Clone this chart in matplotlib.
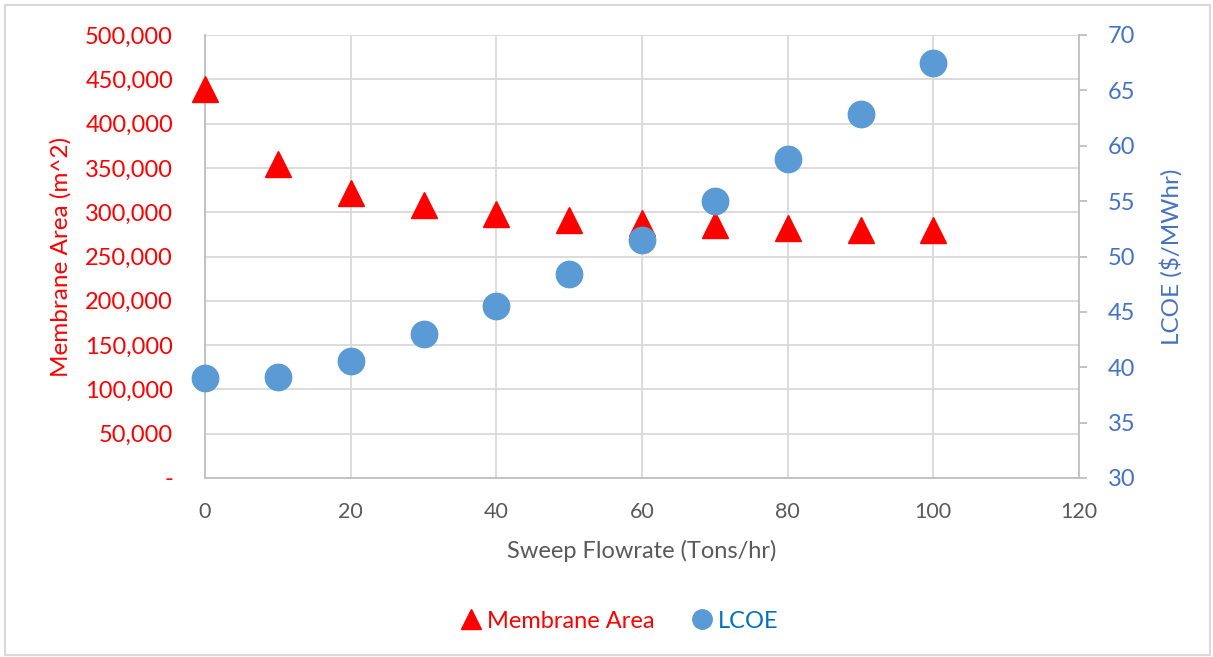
import matplotlib.pyplot as plt
from matplotlib.ticker import FuncFormatter
from matplotlib.lines import Line2D
from matplotlib.patches import Rectangle

# Sweep flowrate vs. membrane area and LCOE
sweep = [0, 10, 20, 30, 40, 50, 60, 70, 80, 90, 100]
membrane_area = [439000, 354000, 322000, 308000, 298000, 291500, 288000,
                 285000, 282000, 280000, 280000]
lcoe = [39.0, 39.1, 40.6, 43.0, 45.5, 48.4, 51.5, 55.0, 58.8, 62.9, 67.5]

plt.rcParams['font.family'] = ['Lato', 'DejaVu Sans']

red = '#FF0000'
blue = '#5B9BD5'
blue_text = '#4472C4'
grid_c = '#D9D9D9'
spine_c = '#BFBFBF'
gray_text = '#595959'

fig = plt.figure(figsize=(12.13, 6.57), dpi=100)
ax = fig.add_axes([205 / 1213, 1 - 478 / 657, 874 / 1213, 443 / 657])
ax2 = ax.twinx()

# outer chart border
fig.patches.append(Rectangle((5 / 1213, 2 / 657), 1205 / 1213, 650 / 657,
                             transform=fig.transFigure, fill=False,
                             edgecolor='#D9D9D9', linewidth=1.5))

ax.set_xlim(0, 120)
ax.set_ylim(0, 500000)
ax2.set_ylim(30, 70)

ax.set_xticks(range(0, 121, 20))
ax.set_yticks(range(0, 500001, 50000))
ax2.set_yticks(range(30, 71, 5))

ax.grid(True, color=grid_c, linewidth=1.3)
ax.set_axisbelow(True)

ax.yaxis.set_major_formatter(FuncFormatter(lambda v, p: '-' if v == 0 else f'{int(v):,}'))

for a in (ax, ax2):
    for s in a.spines.values():
        s.set_visible(False)
ax.spines['bottom'].set_visible(True)
ax.spines['bottom'].set_color(spine_c)
ax.spines['bottom'].set_linewidth(1.3)
ax.spines['left'].set_visible(True)
ax.spines['left'].set_color(spine_c)
ax.spines['left'].set_linewidth(1.3)
ax2.spines['right'].set_visible(True)
ax2.spines['right'].set_color(spine_c)
ax2.spines['right'].set_linewidth(1.3)

ax.tick_params(axis='x', length=0, pad=17, labelsize=15.5, labelcolor=gray_text)
ax.tick_params(axis='y', length=0, pad=23, labelsize=17, labelcolor=red)
ax2.tick_params(axis='y', length=6, width=1.3, color=spine_c, pad=15,
                labelsize=17, labelcolor=blue_text, direction='out')

ax.plot(sweep, membrane_area, linestyle='none', marker='^', markersize=19,
        color=red, zorder=3, clip_on=False)
ax2.plot(sweep, lcoe, linestyle='none', marker='o', markersize=19,
         color=blue, zorder=3, clip_on=False)

ax.set_xlabel('Sweep Flowrate (Tons/hr)', fontsize=17, color=gray_text, labelpad=13)
ax.set_ylabel('Membrane Area (m^2)', fontsize=17.5, color=red, labelpad=10)
ax2.set_ylabel('LCOE ($/MWhr)', fontsize=17.5, color=blue_text, labelpad=17)

handles = [Line2D([], [], linestyle='none', marker='^', markersize=14, color=red),
           Line2D([], [], linestyle='none', marker='o', markersize=14, color=blue)]
leg = fig.legend(handles, ['Membrane Area', 'LCOE'], loc='center',
                 bbox_to_anchor=(620 / 1213, 1 - 621 / 657), ncol=2, frameon=False,
                 fontsize=17, handlelength=0.8, handletextpad=0.3, columnspacing=1.6)
leg.get_texts()[0].set_color(red)
leg.get_texts()[1].set_color('#0070C0')

fig.savefig('out.png', dpi=100)
